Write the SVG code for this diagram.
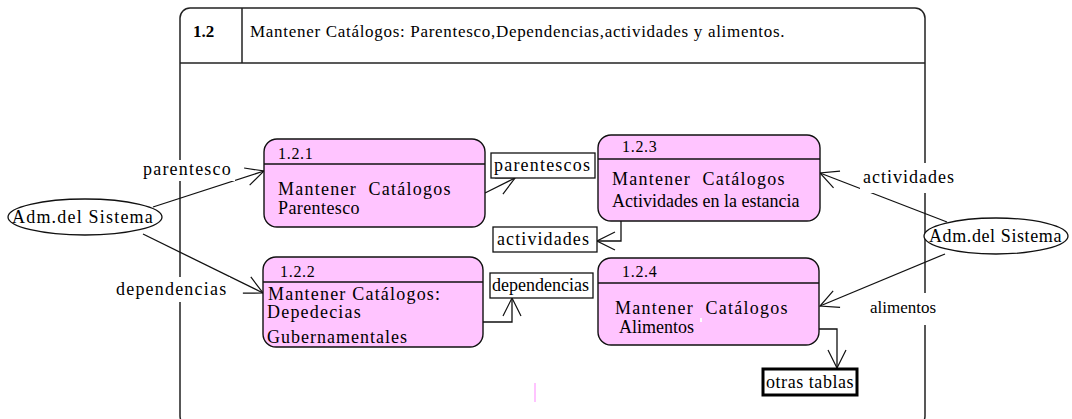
<svg xmlns="http://www.w3.org/2000/svg" width="1072" height="419" viewBox="0 0 1072 419">
<style>
.frame{fill:none;stroke:#222;stroke-width:1.5}
.proc{fill:#FFC4FF;stroke:#111;stroke-width:1.4}
.div{stroke:#111;stroke-width:1.3}
.store{fill:#fff;stroke:#111;stroke-width:1.3}
.store2{fill:#fff;stroke:#000;stroke-width:3}
.actor{fill:#fff;stroke:#111;stroke-width:1.3}
.flow{fill:none;stroke:#111;stroke-width:1.3;marker-end:url(#arr)}
.bg{fill:#fff;stroke:none}
</style>
<defs>
<marker id="arr" viewBox="0 0 20 20" refX="19" refY="10" markerWidth="20" markerHeight="20" markerUnits="userSpaceOnUse" orient="auto">
<path d="M1,1 L19,10 L1,19" fill="none" stroke="#111" stroke-width="1.2"/>
</marker>
</defs>
<rect width="1072" height="419" fill="#fff"/>
<g id="frame">
<rect class="frame" x="180" y="8" width="745" height="418" rx="10"/>
<line class="frame" x1="180" y1="63" x2="925" y2="63"/>
<line class="frame" x1="242" y1="8" x2="242" y2="63"/>
<text x="193" y="37" font-family="Liberation Serif" font-size="17" font-weight="bold">1.2</text>
<text x="250" y="37" font-family="Liberation Serif" font-size="17" letter-spacing="0.7">Mantener Catálogos: Parentesco,Dependencias,actividades y alimentos.</text>
</g>
<g id="connectors">
<line class="flow" x1="153" y1="207" x2="264" y2="171"/>
<line class="flow" x1="143" y1="234" x2="263" y2="293"/>
<line class="flow" x1="485" y1="193" x2="515" y2="178"/>
<polyline class="flow" points="483,322 512,322 512,298"/>
<polyline class="flow" points="621,221 621,241 597,241"/>
<line class="flow" x1="947" y1="222" x2="820" y2="173"/>
<line class="flow" x1="945" y1="254" x2="820" y2="306"/>
<polyline class="flow" points="819,329 837,329 837,368"/>
<rect class="bg" x="140" y="160" width="95" height="21"/>
<rect class="bg" x="114" y="277" width="116" height="25"/>
<rect class="bg" x="860" y="163" width="98" height="30"/>
<rect class="bg" x="866" y="293" width="72" height="32"/>
<text x="143" y="175" font-family="Liberation Serif" font-size="18" letter-spacing="1.2">parentesco</text>
<text x="116" y="295" font-family="Liberation Serif" font-size="18" letter-spacing="1.2">dependencias</text>
<text x="863" y="183" font-family="Liberation Serif" font-size="18" letter-spacing="1">actividades</text>
<text x="870" y="313" font-family="Liberation Serif" font-size="17">alimentos</text>
<line x1="535" y1="383" x2="535" y2="402" stroke="#FFC4FF" stroke-width="2"/>
</g>
<g id="actor-left">
<ellipse class="actor" cx="85" cy="217" rx="77" ry="18"/>
<text x="12" y="223" font-family="Liberation Serif" font-size="18" letter-spacing="1.2">Adm.del Sistema</text>
</g>
<g id="actor-right">
<ellipse class="actor" cx="996" cy="236" rx="72" ry="18"/>
<text x="929" y="242" font-family="Liberation Serif" font-size="18" letter-spacing="0.6">Adm.del Sistema</text>
</g>
<g id="p121">
<rect class="proc" x="264" y="139" width="221" height="88" rx="13"/>
<line class="div" x1="264" y1="164" x2="485" y2="164"/>
<text x="278" y="159" font-family="Liberation Serif" font-size="16" letter-spacing="0.7">1.2.1</text>
<text x="278" y="195" font-family="Liberation Serif" font-size="18" letter-spacing="1.25" xml:space="preserve">Mantener  Catálogos</text>
<text x="278" y="214" font-family="Liberation Serif" font-size="18" letter-spacing="0.4">Parentesco</text>
</g>
<g id="p122">
<rect class="proc" x="263" y="257" width="220" height="90" rx="13"/>
<line class="div" x1="263" y1="282" x2="483" y2="282"/>
<text x="280" y="277" font-family="Liberation Serif" font-size="16" letter-spacing="0.7">1.2.2</text>
<text x="268" y="300" font-family="Liberation Serif" font-size="18" letter-spacing="1.2">Mantener Catálogos:</text>
<text x="267" y="318" font-family="Liberation Serif" font-size="18" letter-spacing="1.2">Depedecias</text>
<text x="267" y="343" font-family="Liberation Serif" font-size="18" letter-spacing="1">Gubernamentales</text>
</g>
<g id="p123">
<rect class="proc" x="598" y="135" width="222" height="86" rx="13"/>
<line class="div" x1="598" y1="159" x2="820" y2="159"/>
<text x="622" y="152" font-family="Liberation Serif" font-size="16" letter-spacing="0.7">1.2.3</text>
<text x="612" y="185" font-family="Liberation Serif" font-size="18" letter-spacing="1.25" xml:space="preserve">Mantener  Catálogos</text>
<text x="612" y="207" font-family="Liberation Serif" font-size="18">Actividades en la estancia</text>
</g>
<g id="p124">
<rect class="proc" x="598" y="258" width="221" height="87" rx="13"/>
<line class="div" x1="598" y1="283" x2="819" y2="283"/>
<text x="622" y="277" font-family="Liberation Serif" font-size="16" letter-spacing="0.7">1.2.4</text>
<text x="615" y="314" font-family="Liberation Serif" font-size="18" letter-spacing="1.25" xml:space="preserve">Mantener  Catálogos</text>
<text x="619" y="333" font-family="Liberation Serif" font-size="18">Alimentos</text>
<rect x="700" y="318" width="2" height="4" fill="#fff"/>
</g>
<g id="s-parentescos">
<rect class="store" x="491" y="153" width="104" height="25"/>
<text x="494" y="171" font-family="Liberation Serif" font-size="18" letter-spacing="1.2">parentescos</text>
</g>
<g id="s-actividades">
<rect class="store" x="493" y="227" width="104" height="25"/>
<text x="497" y="245" font-family="Liberation Serif" font-size="18" letter-spacing="1.1">actividades</text>
</g>
<g id="s-dependencias">
<rect class="store" x="490" y="273" width="103" height="25"/>
<text x="492" y="291" font-family="Liberation Serif" font-size="18">dependencias</text>
</g>
<g id="s-otras">
<rect class="store2" x="763" y="369" width="94" height="26"/>
<text x="766" y="388" font-family="Liberation Serif" font-size="18" letter-spacing="0.55">otras tablas</text>
</g>
</svg>
